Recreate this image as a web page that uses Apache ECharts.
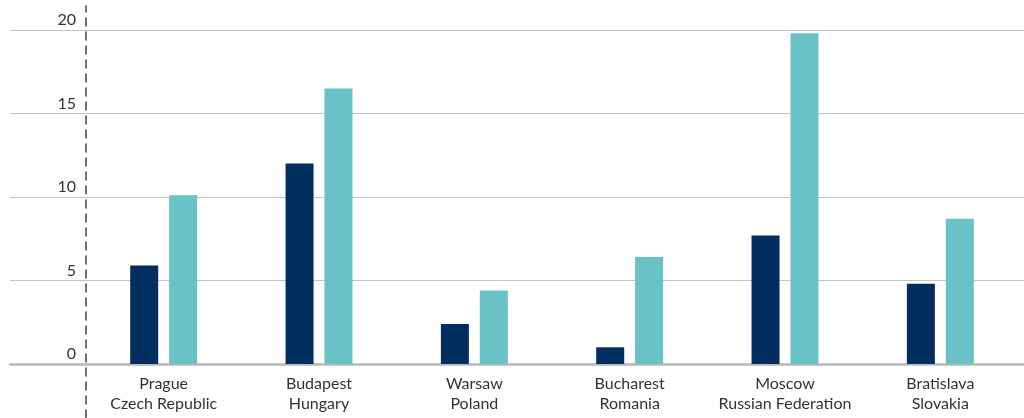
<!DOCTYPE html>
<html>
<head>
<meta charset="utf-8">
<script src="https://cdn.jsdelivr.net/npm/echarts@6/dist/echarts.min.js"></script>
<style>
  html, body { margin: 0; padding: 0; background: #fff; }
  #main { width: 1024px; height: 418px; }
</style>
</head>
<body>
<div id="main"></div>
<script>
// city / country labels
var cities = ['Prague\nCzech Republic', 'Budapest\nHungary', 'Warsaw\nPoland',
              'Bucharest\nRomania', 'Moscow\nRussian Federation', 'Bratislava\nSlovakia'];
var seriesDark = [5.9, 12.0, 2.4, 1.0, 7.7, 4.8];
var seriesTeal = [10.1, 16.5, 4.4, 6.4, 19.8, 8.7];
var yTicks = [0, 5, 10, 15, 20];

var font = 'Lato, "Open Sans", sans-serif';
var myChart = echarts.init(document.getElementById('main'));

var option = {
    animation: false,
    backgroundColor: '#fff',
    grid: [
        { left: 86, right: 6, top: 30, bottom: 54 },   // bars
        { left: 10, right: 0, top: 30, bottom: 54 },   // gridlines across the page
        { left: 86, width: 1, top: 6, bottom: 0 }      // dashed divider
    ],
    xAxis: [
        {
            type: 'category', gridIndex: 0, data: cities,
            axisLine: { show: false }, axisTick: { show: false },
            axisLabel: { interval: 0, color: '#333', fontFamily: font, fontSize: 16, lineHeight: 20, margin: 10 }
        },
        {
            type: 'value', gridIndex: 1, min: 0, max: 1,
            axisLine: { show: true, onZero: false, lineStyle: { color: '#b8b8b8', width: 2.5 } },
            axisTick: { show: false }, axisLabel: { show: false }, splitLine: { show: false }
        },
        {
            type: 'value', gridIndex: 2, min: 0, max: 1, show: false
        }
    ],
    yAxis: [
        {
            type: 'value', gridIndex: 0, min: 0, max: 20, interval: 5,
            axisLine: { show: false }, axisTick: { show: false }, splitLine: { show: false },
            axisLabel: {
                color: '#333', fontFamily: font, fontSize: 16, margin: 10,
                align: 'right', verticalAlign: 'bottom', padding: [0, 0, 2, 0],
                formatter: function (v) { return yTicks.indexOf(v) >= 0 ? String(v) : ''; }
            }
        },
        {
            type: 'value', gridIndex: 1, min: 0, max: 20, interval: 5,
            axisLine: { show: false }, axisTick: { show: false }, axisLabel: { show: false },
            splitLine: { show: true, lineStyle: { color: '#c4c4c4', width: 1 } }
        },
        {
            type: 'value', gridIndex: 2, min: 0, max: 1,
            axisLine: { show: true, lineStyle: { color: '#444', width: 1.5, type: [8, 6] } },
            axisTick: { show: false }, axisLabel: { show: false }, splitLine: { show: false }
        }
    ],
    series: [
        {
            type: 'bar', xAxisIndex: 0, yAxisIndex: 0, data: seriesDark,
            barWidth: 28, barGap: '39%', itemStyle: { color: '#002f5f' }, silent: true
        },
        {
            type: 'bar', xAxisIndex: 0, yAxisIndex: 0, data: seriesTeal,
            barWidth: 28, barGap: '39%', itemStyle: { color: '#69c2c5' }, silent: true
        }
    ]
};

myChart.setOption(option);
</script>
</body>
</html>
